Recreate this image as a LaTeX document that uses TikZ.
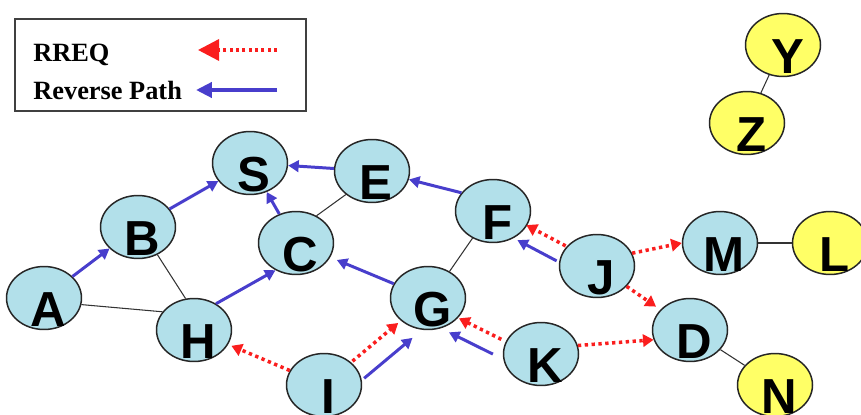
\documentclass[tikz,border=0pt]{standalone}
\usepackage{fontspec}
\usepackage{tikz}
\usepackage{xcolor}
\newfontfamily\peerfont{Liberation Sans}
\newfontfamily\keyfont{Liberation Serif}
\definecolor{peerblue}{RGB}{178,224,234}
\definecolor{peeryellow}{RGB}{255,255,102}
\definecolor{revblue}{RGB}{72,62,204}
\definecolor{rreqred}{RGB}{250,30,30}
\tikzset{peer/.style={ellipse,draw=black!85,line width=0.85pt,fill=peerblue,
   minimum width=1.5cm,minimum height=1.26cm,inner sep=0pt,
   label={[letter]center:#1}},
 far/.style={peer=#1,fill=peeryellow},
 letter/.style={font=\peerfont\bfseries\fontsize{28}{28}\selectfont,
   xshift=2.5pt,yshift=-6.8pt},
 link/.style={draw=black!80,line width=0.6pt},
 revpath/.style={draw=revblue,line width=1.7pt,
   -{Triangle[length=6pt,width=6.5pt]}},
 rreq/.style={draw=rreqred,line width=2pt,dash pattern=on 1.9pt off 2pt,
   -{Triangle[length=6pt,width=7pt]}},
 keytext/.style={font=\keyfont\bfseries\fontsize{15}{15}\selectfont,
   inner sep=0pt,anchor=base west},
 }
\usetikzlibrary{shapes.geometric}
\usetikzlibrary{arrows.meta}

\begin{document}
\begin{tikzpicture}[x=0.02cm,y=-0.02cm]
        \useasboundingbox (0,0) rectangle (861,415);
        \clip (0,0) rectangle (861,415);
        % key
        \node[draw=black!75,line width=0.9pt,minimum width=5.82cm,
            minimum height=1.84cm,anchor=north west] (key) at (14,18) {};
        \node[keytext] (rreq text) at (33,62) {RREQ};
        \node[keytext] (path text) at (33,100) {Reverse Path};
        \coordinate (rreq from) at (277,50);
        \coordinate (rreq to) at (198,50);
        \coordinate (path from) at (277,90);
        \coordinate (path to) at (196,90);
        \draw[rreq,line width=1.9pt,dash pattern=on 1.8pt off 1.8pt,
            -{Triangle[length=12pt,width=12pt]}] (rreq from) -- (rreq to);
        \draw[revpath,line width=2.2pt,
            -{Triangle[length=9pt,width=8.5pt]}] (path from) -- (path to);
        % nodes
        \node[peer=A] (A) at (44,298) {};
        \node[peer=B] (B) at (138,227) {};
        \node[peer=S] (S) at (250,163) {};
        \node[peer=E] (E) at (372,171) {};
        \node[peer=C] (C) at (296,243) {};
        \node[peer=H] (H) at (194,330) {};
        \node[peer=I] (I) at (324,385) {};
        \node[peer=G] (G) at (428,298) {};
        \node[peer=F] (F) at (493,211) {};
        \node[peer=J] (J) at (597,266) {};
        \node[peer=M] (M) at (720,243) {};
        \node[peer=D] (D) at (690,330) {};
        \node[peer=K] (K) at (541,354) {};
        \node[far=L] (L) at (830,243) {};
        \node[far=N] (N) at (775,385) {};
        \node[far=Y] (Y) at (783,45) {};
        \node[far=Z] (Z) at (747,123) {};
        % plain links
        \draw[link] (A.-10) -- (H.150);
        \draw[link] (B.-55) -- (H.105);
        \draw[link] (C.53) -- (E.222);
        \draw[link] (F.233) -- (G.51);
        \draw[link] (M.east) -- (L.west);
        \draw[link] (D) -- (N);
        \draw[link] (Y) -- (Z);
        % reverse path
        \draw[revpath] (A) -- (B);
        \draw[revpath] (B) -- (S);
        \draw[revpath] (E) -- (S);
        \draw[revpath] (C) -- (S);
        \draw[revpath] (H.50) -- (C.233);
        \draw[revpath,shorten >=4pt] (G) -- (C);
        \draw[revpath] (F.150) -- (E.-13);
        \draw[revpath,shorten >=1pt,transform canvas={shift={(13,16)}}] (I) -- (G);
        \draw[revpath,shorten <=2pt,transform canvas={shift={(-12,18)}}] (K) -- (G);
        \draw[revpath,transform canvas={shift={(-8,12)}}] (J) -- (F);
        % route requests
        \draw[rreq,shorten >=2pt] (I) -- (H);
        \draw[rreq,shorten >=2pt,shorten <=1pt] (I) -- (G);
        \draw[rreq,shorten <=3pt,transform canvas={shift={(-2,4)}}] (K) -- (G);
        \draw[rreq,transform canvas={shift={(1,-3)}}] (J) -- (F);
        \draw[rreq] (J.20) -- (M.west);
        \draw[rreq,shorten >=3pt] (J) -- (D);
        \draw[rreq] (K.13) -- (D.195);
    \end{tikzpicture}
\end{document}
